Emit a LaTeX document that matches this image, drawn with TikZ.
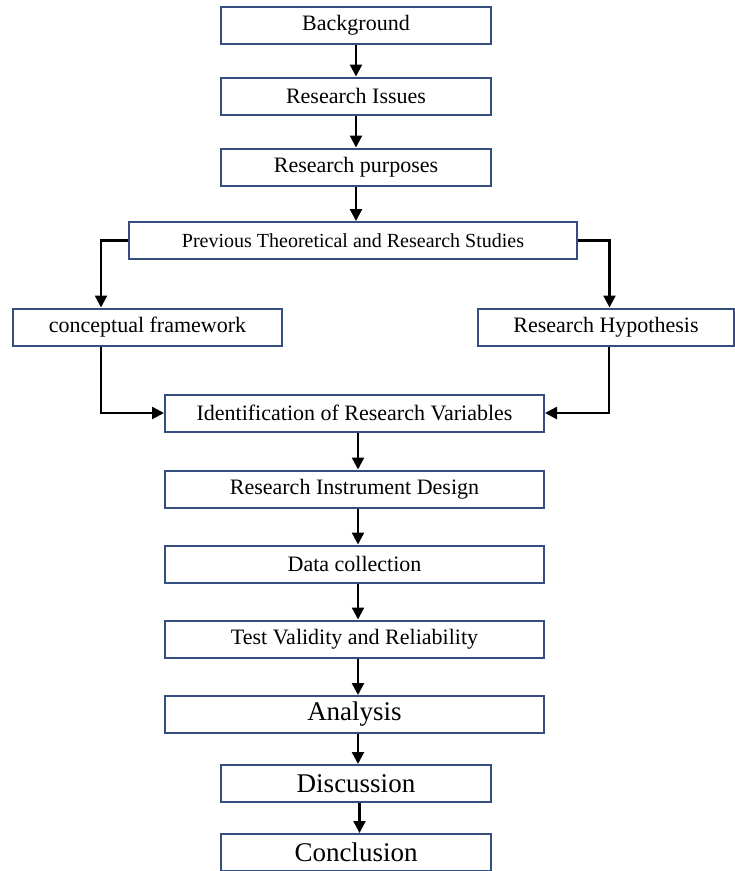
\documentclass[tikz,border=0pt]{standalone}
\usepackage{fontspec}
\setmainfont{Liberation Serif}
\usetikzlibrary{arrows.meta}
\definecolor{boxline}{RGB}{52,78,128}
\tikzset{
    box/.style={draw=boxline, line width=2pt, inner sep=0pt,
        minimum height=37pt, font=\fontsize{22}{26}\selectfont},
    bigbox/.style={box, font=\fontsize{27}{30}\selectfont},
    link/.style={line width=2.4pt, -{Triangle[length=12pt,width=12pt]}}
}
\begin{document}
\begin{tikzpicture}[x=1pt, y=-1pt]
            \useasboundingbox (0, 0) rectangle (735, 871);
            % main column
            \node[box, minimum width=270pt] (bg) at (356, 25.5) {Background};
            \node[box, minimum width=270pt] (issues) at (356, 96) {Research Issues};
            \node[box, minimum width=270pt] (purposes) at (356, 167) {Research purposes};
            \node[box, minimum width=448pt, font=\fontsize{20}{24}\selectfont] (previous) at (353, 240.5) {Previous Theoretical and Research Studies};
            % two branches
            \node[box, minimum width=269pt] (concept) at (147.5, 327) {conceptual framework};
            \node[box, minimum width=256pt] (hypo) at (606, 327) {Research Hypothesis};
            % lower column
            \node[box, minimum width=379pt] (ident) at (354.5, 413) {Identification of Research Variables};
            \node[box, minimum width=379pt] (instr) at (354.5, 489) {Research Instrument Design};
            \node[box, minimum width=379pt] (datacol) at (354.5, 564) {Data collection};
            \node[box, minimum width=379pt] (test) at (354.5, 639) {Test Validity and Reliability};
            \node[bigbox, minimum width=379pt] (analysis) at (354.5, 714.5) {Analysis};
            \node[bigbox, minimum width=270pt] (disc) at (356, 783.5) {Discussion};
            \node[bigbox, minimum width=270pt] (concl) at (356, 852.5) {Conclusion};
            % arrows
            \foreach \a/\b in {bg/issues, issues/purposes, purposes/previous} {
                \draw[link] (\a.south) -- (\a.south |- \b.north);
            }
            \foreach \a/\b in {ident/instr, instr/datacol, datacol/test, test/analysis, analysis/disc, disc/concl} {
                \draw[link] ([xshift=3.5pt]\a.south) -- ([xshift=3.5pt]\a.south |- \b.north);
            }
            \draw[link] (previous.west) -| ([xshift=-46.5pt]concept.north);
            \draw[link] (previous.east) -| ([xshift=3.5pt]hypo.north);
            \draw[link] ([xshift=-46.5pt]concept.south) |- (ident.west);
            \draw[link] ([xshift=3pt]hypo.south) |- (ident.east);
        \end{tikzpicture}
\end{document}
